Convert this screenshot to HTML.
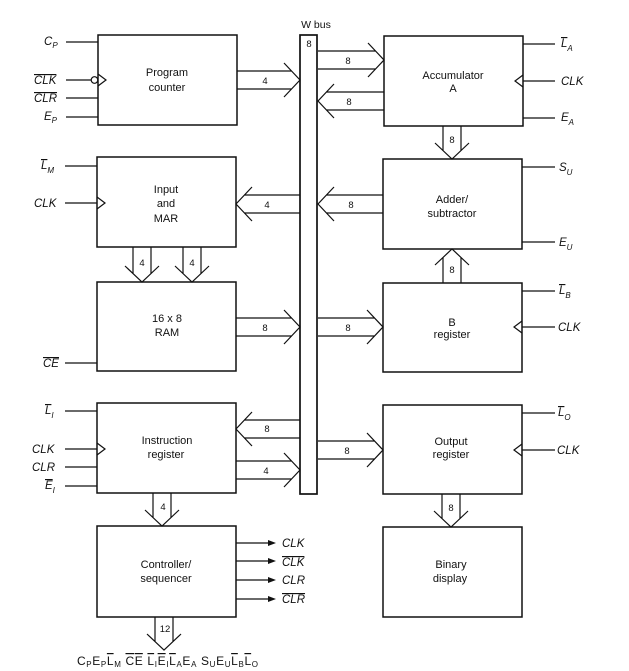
<!DOCTYPE html>
<html><head><meta charset="utf-8"><style>
html,body{margin:0;padding:0;background:#fff;}
svg{display:block;}
text{font-family:"Liberation Sans",sans-serif;fill:#111;}
.l{font-size:11px;text-anchor:middle;}
.n{font-size:9.5px;text-anchor:middle;}
.s{font-size:11.5px;font-style:italic;}
.sub{font-size:8px;}
.ov{text-decoration:overline;}
</style></head><body>
<svg width="629" height="671" viewBox="0 0 629 671" xmlns="http://www.w3.org/2000/svg">
<g fill="none" stroke="#111" stroke-width="1.5">
<rect x="98" y="35" width="139" height="90"/>
<rect x="97" y="157" width="139" height="90"/>
<rect x="97" y="282" width="139" height="89"/>
<rect x="97" y="403" width="139" height="90"/>
<rect x="97" y="526" width="139" height="91"/>
<rect x="384" y="36" width="139" height="90"/>
<rect x="383" y="159" width="139" height="90"/>
<rect x="383" y="283" width="139" height="89"/>
<rect x="383" y="405" width="139" height="89"/>
<rect x="383" y="527" width="139" height="90"/>
<rect x="300" y="35" width="17" height="459" stroke-width="1.7"/>

<g stroke-width="1.2">
<path d="M237 71H291.5M237 89H291.5M284 63L300 80L284 97"/>
<path d="M318 51H375.5M318 69H375.5M368 43L384 60L368 77"/>
<path d="M384 92H326.5M384 110H326.5M334 84L318 101L334 118"/>
<path d="M443 126V150.5M461 126V150.5M435 143L452 159L469 143"/>
<path d="M383 195H326.5M383 213H326.5M334 187L318 204L334 221"/>
<path d="M300 195H244.5M300 213H244.5M252 187L236 204L252 221"/>
<path d="M133 247V273.5M151 247V273.5M125 266L142 282L159 266"/>
<path d="M183 247V273.5M201 247V273.5M175 266L192 282L209 266"/>
<path d="M236 318H291.5M236 336H291.5M284 310L300 327L284 344"/>
<path d="M318 318H374.5M318 336H374.5M367 310L383 327L367 344"/>
<path d="M443 283V257.5M461 283V257.5M435 265L452 249L469 265"/>
<path d="M300 420H244.5M300 438H244.5M252 412L236 429L252 446"/>
<path d="M236 461H291.5M236 479H291.5M284 453L300 470L284 487"/>
<path d="M318 441H374.5M318 459H374.5M367 433L383 450L367 467"/>
<path d="M442 494V518.5M460 494V518.5M434 511L451 527L468 511"/>
<path d="M153 493V517.5M171 493V517.5M145 510L162 526L179 510"/>
<path d="M155 617V641.5M173 617V641.5M147 634L164 650L181 634"/>

<path d="M66 42H98M66 80H91M66 98H98M66 117H98"/>
<circle cx="94.5" cy="80" r="3.3"/>
<path d="M98 74L106 80L98 86"/>
<path d="M65 166H97M65 203H97M97 197L105 203L97 209"/>
<path d="M65 363H97"/>
<path d="M65 411H97M65 449H97M65 467H97M65 486H97M97 443L105 449L97 455"/>
<path d="M236 543H268M236 561H268M236 580H268M236 599H268"/>
<path d="M523 44H555M523 81H555M523 118H555M523 75L515 81L523 87"/>
<path d="M522 167H555M522 242H555"/>
<path d="M522 291H555M522 327H555M522 321L514 327L522 333"/>
<path d="M522 413H555M522 450H555M522 444L514 450L522 456"/>
</g>
</g>
<g fill="#111">
<path d="M268 540L276 543L268 546Z"/><path d="M268 558L276 561L268 564Z"/>
<path d="M268 577L276 580L268 583Z"/><path d="M268 596L276 599L268 602Z"/>
</g>

<text class="l" x="167" y="76">Program</text><text class="l" x="167" y="91">counter</text>
<text class="l" x="166" y="193">Input</text><text class="l" x="166" y="207">and</text><text class="l" x="166" y="222">MAR</text>
<text class="l" x="167" y="322">16 x 8</text><text class="l" x="167" y="336">RAM</text>
<text class="l" x="167" y="444">Instruction</text><text class="l" x="166" y="458">register</text>
<text class="l" x="166" y="568">Controller/</text><text class="l" x="166" y="582">sequencer</text>
<text class="l" x="453" y="79">Accumulator</text><text class="l" x="453" y="92">A</text>
<text class="l" x="452" y="203">Adder/</text><text class="l" x="452" y="217">subtractor</text>
<text class="l" x="452" y="326">B</text><text class="l" x="452" y="338">register</text>
<text class="l" x="451" y="445">Output</text><text class="l" x="451" y="458">register</text>
<text class="l" x="451" y="568">Binary</text><text class="l" x="450" y="582">display</text>

<text class="l" x="316" y="28" style="font-size:10.5px">W bus</text>
<text class="n" x="309" y="47">8</text>
<text class="n" x="265" y="84">4</text>
<text class="n" x="348" y="64">8</text>
<text class="n" x="349" y="105">8</text>
<text class="n" x="452" y="143">8</text>
<text class="n" x="351" y="208">8</text>
<text class="n" x="267" y="208">4</text>
<text class="n" x="142" y="266">4</text>
<text class="n" x="192" y="266">4</text>
<text class="n" x="265" y="331">8</text>
<text class="n" x="348" y="331">8</text>
<text class="n" x="452" y="273">8</text>
<text class="n" x="267" y="432">8</text>
<text class="n" x="266" y="474">4</text>
<text class="n" x="347" y="454">8</text>
<text class="n" x="451" y="511">8</text>
<text class="n" x="163" y="510">4</text>
<text class="n" x="165" y="632">12</text>

<text class="s" x="44" y="45">C<tspan class="sub" dy="3">P</tspan></text>
<text class="s" x="34" y="84"><tspan class="ov">CLK</tspan></text>
<text class="s" x="34" y="102"><tspan class="ov">CLR</tspan></text>
<text class="s" x="44" y="120">E<tspan class="sub" dy="3">P</tspan></text>
<text class="s" x="41" y="169"><tspan class="ov">L</tspan><tspan class="sub" dy="4">M</tspan></text>
<text class="s" x="34" y="207">CLK</text>
<text class="s" x="43" y="367"><tspan class="ov">CE</tspan></text>
<text class="s" x="45" y="414"><tspan class="ov">L</tspan><tspan class="sub" dy="4">I</tspan></text>
<text class="s" x="32" y="453">CLK</text>
<text class="s" x="32" y="471">CLR</text>
<text class="s" x="45" y="489"><tspan class="ov">E</tspan><tspan class="sub" dy="4">I</tspan></text>
<text class="s" x="282" y="547">CLK</text>
<text class="s" x="282" y="566"><tspan class="ov">CLK</tspan></text>
<text class="s" x="282" y="584">CLR</text>
<text class="s" x="282" y="603"><tspan class="ov">CLR</tspan></text>
<text class="s" x="561" y="47"><tspan class="ov">L</tspan><tspan class="sub" dy="4">A</tspan></text>
<text class="s" x="561" y="85">CLK</text>
<text class="s" x="561" y="121">E<tspan class="sub" dy="4">A</tspan></text>
<text class="s" x="559" y="171">S<tspan class="sub" dy="4">U</tspan></text>
<text class="s" x="559" y="246">E<tspan class="sub" dy="4">U</tspan></text>
<text class="s" x="559" y="294"><tspan class="ov">L</tspan><tspan class="sub" dy="4">B</tspan></text>
<text class="s" x="558" y="331">CLK</text>
<text class="s" x="558" y="416"><tspan class="ov">L</tspan><tspan class="sub" dy="4">O</tspan></text>
<text class="s" x="557" y="454">CLK</text>

<text x="77" y="665" textLength="181" lengthAdjust="spacing" style="font-size:12px">C<tspan class="sub" dy="2">P</tspan><tspan dy="-2">E</tspan><tspan class="sub" dy="2">P</tspan><tspan class="ov" dy="-2">L</tspan><tspan class="sub" dy="2">M</tspan><tspan dy="-2"> </tspan><tspan class="ov">CE</tspan><tspan> </tspan><tspan class="ov">L</tspan><tspan class="sub" dy="2">I</tspan><tspan class="ov" dy="-2">E</tspan><tspan class="sub" dy="2">I</tspan><tspan class="ov" dy="-2">L</tspan><tspan class="sub" dy="2">A</tspan><tspan dy="-2">E</tspan><tspan class="sub" dy="2">A</tspan><tspan dy="-2">  S</tspan><tspan class="sub" dy="2">U</tspan><tspan dy="-2">E</tspan><tspan class="sub" dy="2">U</tspan><tspan class="ov" dy="-2">L</tspan><tspan class="sub" dy="2">B</tspan><tspan class="ov" dy="-2">L</tspan><tspan class="sub" dy="2">O</tspan></text>
</svg>
</body></html>
